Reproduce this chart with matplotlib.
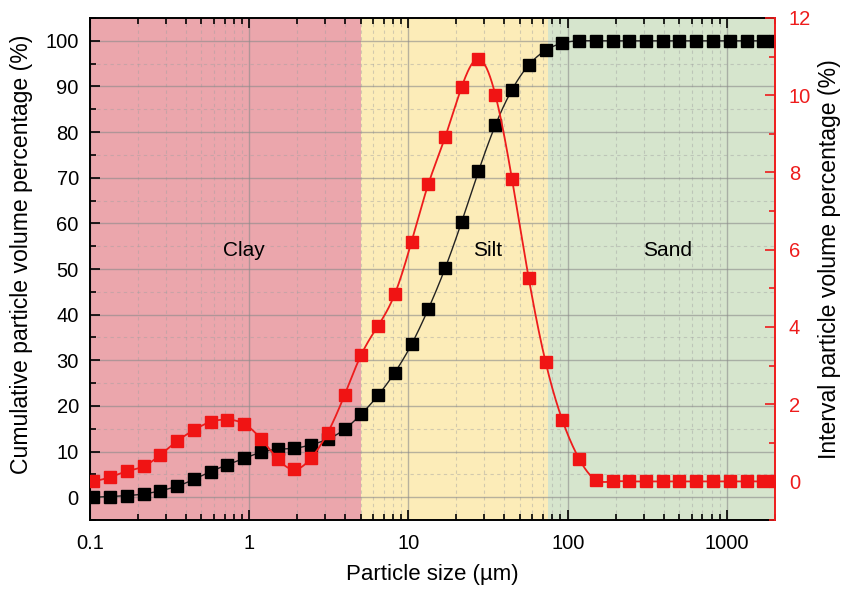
import matplotlib
matplotlib.use('Agg')
import matplotlib.pyplot as plt
from matplotlib.ticker import MultipleLocator, LogLocator, NullFormatter, FixedLocator
import numpy as np

plt.rcParams['font.family'] = ['Liberation Sans', 'DejaVu Sans']

# particle size classes (um)
sizes = [0.105, 0.134, 0.170, 0.217, 0.277, 0.352, 0.449, 0.572, 0.728, 0.927,
         1.18, 1.51, 1.92, 2.44, 3.11, 3.97, 5.05, 6.44, 8.20,
         10.45, 13.3, 17.0, 21.6, 27.5, 35.1, 44.7, 56.9, 72.6, 92.4,
         118, 150, 191, 243, 310, 395, 503, 641, 817, 1040, 1327, 1690, 2000]

# cumulative volume (%)
cumulative = [0.0, 0.15, 0.35, 0.7, 1.4, 2.4, 3.9, 5.6, 7.1, 8.5,
              9.8, 10.5, 10.7, 11.5, 12.7, 14.9, 18.2, 22.3, 27.3,
              33.5, 41.2, 50.2, 60.4, 71.4, 81.5, 89.3, 94.7, 97.9, 99.5,
              100.0, 100.0, 100.0, 100.0, 100.0, 100.0, 100.0, 100.0, 100.0,
              100.0, 100.0, 100.0, 100.0]

# interval volume (%)
interval = [0.0, 0.11, 0.26, 0.39, 0.69, 1.04, 1.33, 1.54, 1.60, 1.49,
            1.11, 0.58, 0.31, 0.60, 1.26, 2.24, 3.28, 4.03, 4.85,
            6.21, 7.69, 8.92, 10.22, 10.94, 10.01, 7.82, 5.26, 3.09, 1.59,
            0.58, 0.04, 0.0, 0.0, 0.0, 0.0, 0.0, 0.0, 0.0,
            0.0, 0.0, 0.0, 0.0]

# size class limits (um)
zones = [('Clay', 0.1, 5, '#eba6ac'),
         ('Silt', 5, 75, '#fcecb8'),
         ('Sand', 75, 2000, '#d6e5cd')]
zone_label_x = [0.93, 31.5, 425]
zone_label_y = 54


def natural_spline(x, y, num=800):
    # cubic spline through the points, in log10(x)
    t = np.log10(np.asarray(x, dtype=float))
    y = np.asarray(y, dtype=float)
    n = len(t)
    h = np.diff(t)
    A = np.zeros((n, n))
    b = np.zeros(n)
    A[0, 0] = A[-1, -1] = 1.0
    for i in range(1, n - 1):
        A[i, i - 1] = h[i - 1]
        A[i, i] = 2 * (h[i - 1] + h[i])
        A[i, i + 1] = h[i]
        b[i] = 6 * ((y[i + 1] - y[i]) / h[i] - (y[i] - y[i - 1]) / h[i - 1])
    M = np.linalg.solve(A, b)
    tt = np.linspace(t[0], t[-1], num)
    idx = np.clip(np.searchsorted(t, tt) - 1, 0, n - 2)
    t0, t1 = t[idx], t[idx + 1]
    hh = t1 - t0
    a = (t1 - tt) / hh
    c = (tt - t0) / hh
    yy = a * y[idx] + c * y[idx + 1] + ((a**3 - a) * M[idx] + (c**3 - c) * M[idx + 1]) * hh**2 / 6
    return 10**tt, yy


fig = plt.figure(figsize=(8.44, 5.92), dpi=100)
ax = fig.add_axes([0.1066, 0.1216, 0.8116, 0.848])

for (name, lo, hi, col), lx in zip(zones, zone_label_x):
    ax.axvspan(lo, hi, color=col, zorder=0, lw=0)
    ax.text(lx, zone_label_y, name, ha='center', va='center', fontsize=15, zorder=5)

ax.set_xscale('log')
ax.set_xlim(0.1, 2000)
ax.set_ylim(-5, 105)
ax.yaxis.set_major_locator(MultipleLocator(10))
ax.yaxis.set_minor_locator(MultipleLocator(5))
ax.xaxis.set_major_locator(FixedLocator([0.1, 1, 10, 100, 1000]))
ax.xaxis.set_minor_locator(LogLocator(base=10, subs=np.arange(2, 10), numticks=20))
ax.xaxis.set_minor_formatter(NullFormatter())
ax.set_xticklabels(['0.1', '1', '10', '100', '1000'])

ax.grid(True, which='major', color='#8a8a8a', lw=1.0, alpha=0.6, zorder=1)
ax.grid(True, which='minor', color='#a0a0a0', lw=0.8, ls=(0, (3, 3)), alpha=0.45, zorder=1)
ax.set_axisbelow(True)

sx, sy = natural_spline(sizes, cumulative)
ax.plot(sx, sy, color='#222222', lw=1.0, zorder=3)
ax.plot(sizes, cumulative, ls='none', marker='s', ms=8, color='black', zorder=4)

ax.tick_params(which='both', direction='in', top=True, right=False, width=1.2, labelsize=14.5)
ax.tick_params(which='major', length=7)
ax.tick_params(which='minor', length=4)
ax.tick_params(axis='x', pad=10)
ax.tick_params(axis='y', pad=8)
for s in ['left', 'top', 'bottom']:
    ax.spines[s].set_linewidth(1.4)
ax.spines['right'].set_visible(False)

ax.set_xlabel('Particle size (\u00b5m)', fontsize=16, labelpad=8)
ax.set_ylabel('Cumulative particle volume percentage (%)', fontsize=16.6)
ax.yaxis.set_label_coords(-0.083, 0.53)

# interval distribution on the right axis
ax2 = ax.twinx()
ax2.set_ylim(-1, 12)
ax2.yaxis.set_major_locator(MultipleLocator(2))
ax2.yaxis.set_minor_locator(MultipleLocator(1))
rx, ry = natural_spline(sizes, interval)
ax2.plot(rx, ry, color='#ee1c1c', lw=1.3, zorder=3)
ax2.plot(sizes, interval, ls='none', marker='s', ms=8, color='#f01414', zorder=4)
for s in ['left', 'top', 'bottom']:
    ax2.spines[s].set_visible(False)
ax2.spines['right'].set_color('#ee1c1c')
ax2.spines['right'].set_linewidth(1.4)
ax2.tick_params(which='both', direction='in', colors='#ee1c1c', width=1.2,
                labelsize=14.5, pad=10)
ax2.tick_params(which='major', length=7)
ax2.tick_params(which='minor', length=4)
ax2.set_ylabel('Interval particle volume percentage (%)', fontsize=16.6, rotation=90)
ax2.yaxis.set_label_coords(1.063, 0.52)

fig.savefig('out.png', dpi=100)
